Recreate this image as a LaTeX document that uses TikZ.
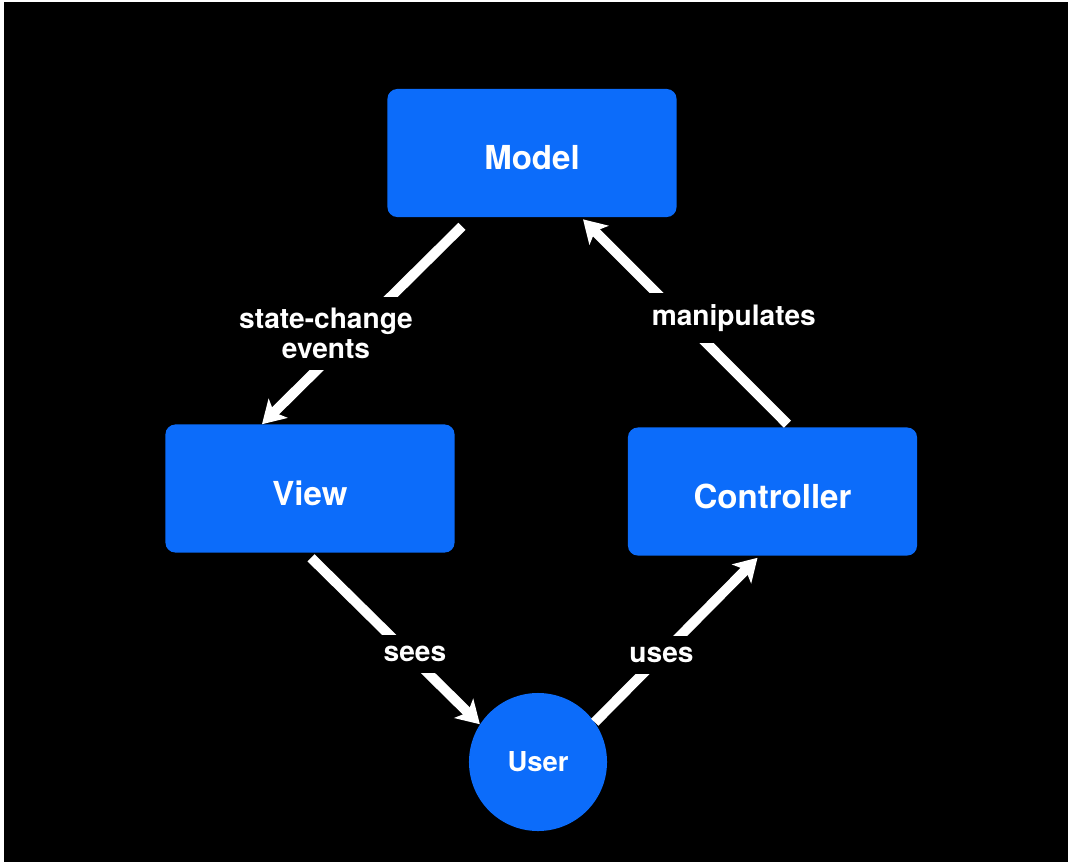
\documentclass[tikz,border=0pt]{standalone}
\usepackage{xcolor}
\usepackage{fontspec}
\setmainfont{TeX Gyre Heros}
\usepackage{tikz}
\usetikzlibrary{positioning,arrows.meta,calc}
\definecolor{mvcblue}{RGB}{12,108,250}

\begin{document}
\begin{tikzpicture}[x=0.025cm, y=-0.025cm, box/.style={fill=mvcblue,rounded corners=7pt,minimum width=7.225cm,minimum height=3.2cm,text height=24pt,text depth=0pt,text=white,font=\fontsize{23.5}{26}\selectfont\bfseries}, lbl/.style={fill=black,text=white,align=center,inner sep=8pt,font=\fontsize{20}{21}\selectfont\bfseries}, flow/.style={->,draw=white,line width=7.1pt}, >={Stealth[length=16pt,width=19pt,inset=4pt]}]
\fill[white] (0,0) rectangle (1068,862);
\fill[black] (4,2) rectangle (1068,862);
\node[box] (model) at (532,153) {Model};
\node[box] (view) at (310,488.5) {View};
\node[box] (ctrl) at (772.5,491.5) {Controller};
\node[circle,fill=mvcblue,minimum size=3.45cm,text=white,font=\fontsize{19.5}{22}\selectfont\bfseries] (user) at (538,762) {User};
\draw[flow] ($(model.south)+(-70,9)$) -- node[lbl,pos=0.54,xshift=-0.7cm]{state-change\\events} ($(view.north)+(-48,0)$);
\draw[flow] ($(ctrl.north)+(15,-3)$) -- node[lbl,pos=0.517,xshift=1.3cm]{manipulates} ($(model.south)+(51,2)$);
\draw[flow] ($(view.south)+(1,5)$) -- node[lbl,pos=0.58,xshift=0.15cm]{sees} (user.147);
\draw[flow] (user.35) -- node[lbl,pos=0.41]{uses} ($(ctrl.south)+(-15,2)$);
\end{tikzpicture}
\end{document}
